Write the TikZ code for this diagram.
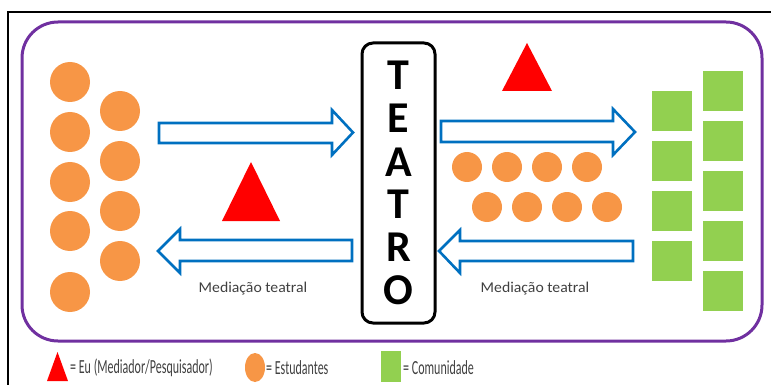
\documentclass[tikz,border=0pt]{standalone}
\usepackage{fontspec}
\usetikzlibrary{shapes.geometric}
\setmainfont{Carlito}
\newfontfamily\medfont[FakeStretch=1.05]{Carlito}
\newfontfamily\legfont[FakeStretch=0.6]{Carlito}
\definecolor{orng}{HTML}{F79646}
\definecolor{grn}{HTML}{92D050}
\definecolor{blu}{HTML}{0070C0}
\definecolor{purp}{HTML}{7030A0}
\definecolor{txtgray}{HTML}{404040}
\tikzset{
  student/.style={circle,fill=orng,inner sep=0pt,minimum size=40pt},
  smallstudent/.style={circle,fill=orng,inner sep=0pt,minimum size=30pt},
  community/.style={rectangle,fill=grn,inner sep=0pt,minimum size=40pt},
  blockarrow/.style={draw=blu,line width=2.6pt,fill=white,line join=miter},
  me/.style={fill=red},
  letter/.style={font=\bfseries\fontsize{44}{44}\selectfont,inner sep=0pt},
  medlabel/.style={font=\medfont\fontsize{15}{15}\selectfont,text=txtgray,inner sep=0pt},
  leglabel/.style={font=\legfont\fontsize{20}{20}\selectfont,text=txtgray,inner sep=0pt,anchor=west}
}
\begin{document}
\begin{tikzpicture}[x=1pt,y=-1pt]
\useasboundingbox (0,0) rectangle (771,385);
% outer black frame
\draw[line width=2.5pt] (8,385) -- (8,12) -- (771,12);
% purple rounded frame
\draw[purp,line width=3pt,rounded corners=36pt] (22,22) rectangle (762,341);
% left students
\foreach \y [count=\i] in {82,132,182,231,292} \node[student] (sa\i) at (70,\y) {};
\foreach \y [count=\i] in {111,161,211,261} \node[student] (sb\i) at (120,\y) {};
% middle students
\foreach \x [count=\i] in {467,507,547,587} \node[smallstudent] (sc\i) at (\x,167) {};
\foreach \x [count=\i] in {487,527,567,607} \node[smallstudent] (sd\i) at (\x,207) {};
% community
\foreach \y [count=\i] in {111,161,211,261} \node[community] (ca\i) at (672,\y) {};
\foreach \y [count=\i] in {91,141,191,241,291} \node[community] (cb\i) at (723,\y) {};
% TEATRO box
\node[draw,line width=3pt,rounded corners=11pt,minimum width=73pt,minimum height=280pt,inner sep=0pt] (teatro) at (398.5,183) {};
\foreach \l/\y [count=\i] in {T/75,E/118,A/162,T/204,R/247,O/290} \node[letter] (let\i) at (398.5,\y) {\l};
% block arrows
\draw[blockarrow] (159,123) -- (332,123) -- (332,110) -- (353,132.5) -- (332,155) -- (332,143) -- (159,143) -- cycle;
\draw[blockarrow] (441,121) -- (613,121) -- (613,109) -- (635,132) -- (613,155) -- (613,142) -- (441,142) -- cycle;
\draw[blockarrow] (352,240) -- (180,240) -- (180,229) -- (158,251) -- (180,273) -- (180,261) -- (352,261) -- cycle;
\draw[blockarrow] (633,241) -- (460,241) -- (460,230) -- (439,251) -- (460,273) -- (460,261) -- (633,261) -- cycle;
% labels
\node[medlabel] (ml) at (253,289) {Mediação teatral};
\node[medlabel] (mr) at (535,289) {Mediação teatral};
% mediator triangles
\fill[me] (527,43) -- (552,91) -- (502,91) -- cycle;
\fill[me] (251,162) -- (280,221) -- (222,221) -- cycle;
% legend
\fill[me] (57.5,352) -- (68,381) -- (47,381) -- cycle;
\node[leglabel] (l1) at (70,368) {= Eu (Mediador/Pesquisador)};
\node[ellipse,fill=orng,minimum width=20pt,minimum height=29pt,inner sep=0pt] (lo) at (255,367.5) {};
\node[leglabel] (l2) at (266,368) {= Estudantes};
\node[rectangle,fill=grn,minimum width=20pt,minimum height=31pt,inner sep=0pt] (lg) at (391,366.5) {};
\node[leglabel] (l3) at (403,368) {= Comunidade};
\end{tikzpicture}
\end{document}
